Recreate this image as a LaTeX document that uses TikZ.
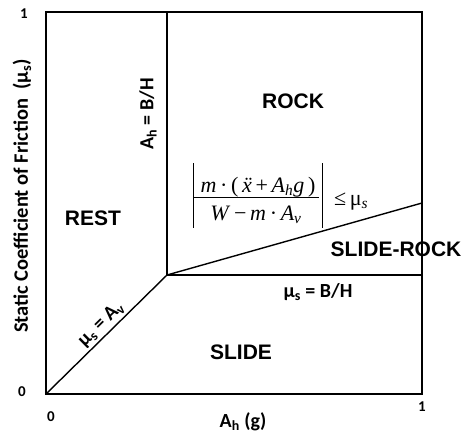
\documentclass[tikz,border=0pt]{standalone}
\usepackage{fontspec}
\setmainfont{Liberation Sans}
\newfontfamily\carl{Carlito}
\newfontfamily\tms{Liberation Serif}
\begin{document}
\begin{tikzpicture}[x=1pt,y=-1pt,
  ln/.style={line width=1.4pt},
  reg/.style={font=\fontsize{21}{21}\selectfont\bfseries, inner sep=0pt},
  ax/.style={font=\carl\fontsize{20}{20}\selectfont\bfseries, inner sep=1pt},
  numlab/.style={font=\carl\fontsize{15}{15}\selectfont\bfseries, inner sep=0pt},
  fm/.style={font=\tms\fontsize{22}{22}\selectfont, inner sep=0pt},
  fmline/.style={line width=0.9pt}]
\useasboundingbox (0,0) rectangle (462,436);
% frame and boundaries
\coordinate (BL) at (46,394);
\coordinate (TR) at (422,12);
\coordinate (T) at (167,12);
\coordinate (K) at (167,275);
\coordinate (R1) at (422,275);
\coordinate (R2) at (422,203);
\draw[ln] (BL) rectangle (TR);
\draw[ln] (T) -- (K) -- (R1);
\draw[ln] (K) -- (R2);
\draw[ln] (BL) -- (K) node[pos=0.52, sloped, anchor=south, ax, inner sep=2.5pt] (lav) {μ\textsubscript{s} = A\textsubscript{v}};
% axis labels
\node[ax, rotate=90, font=\carl\fontsize{20.5}{20.5}\selectfont\bfseries] (ylab) at (22,196) {Static Coefficient of Friction~~(μ\textsubscript{s})};
\node[ax] (xlab) at (243,422) {A\textsubscript{h} (g)};
\node[numlab] (y1) at (24,14) {1};
\node[numlab] (y0) at (22,392) {0};
\node[numlab] (x0) at (51,417) {0};
\node[numlab] (x1) at (422,407) {1};
% boundary labels
\node[ax, rotate=90] (lah) at (148,114) {A\textsubscript{h} = B/H};
\node[ax] (lmu) at (318,292) {μ\textsubscript{s} = B/H};
% region labels
\node[reg] (rock) at (293,101) {ROCK};
\node[reg] (rest) at (93,218) {REST};
\node[reg] (slide) at (241,352) {SLIDE};
\node[reg] (sliderock) at (396,249) {SLIDE-ROCK};
% formula
\node[fm, anchor=base] (fnum) at (258,192) {\textit{m}\,·\,(\,\textit{\"x}\,+\,\textit{A\textsubscript{h}g}\,)};
\node[fm, anchor=base] (fden) at (256,220) {\textit{W}\,−\,\textit{m}\,·\,\textit{A\textsubscript{v}}};
\coordinate (fl1) at (194,197);
\coordinate (fl2) at (319,197);
\draw[fmline] (fl1) -- (fl2);
\coordinate (b1t) at (193,163);
\coordinate (b1b) at (193,228);
\coordinate (b2t) at (322,163);
\coordinate (b2b) at (322,228);
\draw[fmline] (b1t) -- (b1b);
\draw[fmline] (b2t) -- (b2b);
\node[fm, anchor=base west] (fle) at (334,205) {≤\,μ\textsubscript{\textit{s}}};
\end{tikzpicture}
\end{document}
